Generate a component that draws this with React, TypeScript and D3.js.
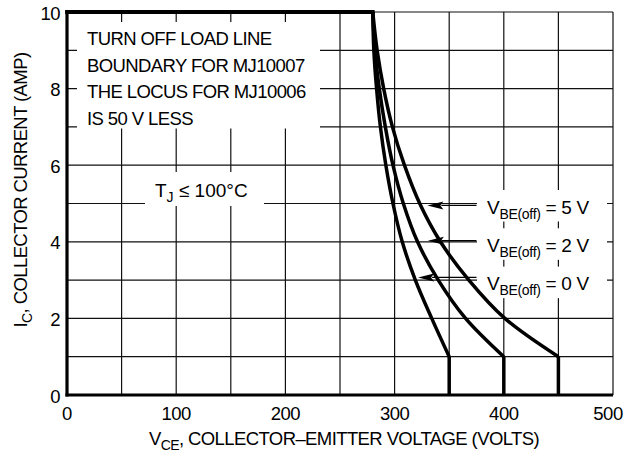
import React from 'react';
import * as d3 from 'd3';

// Collector current levels (A) read at each grid line, top to bottom
const currentLevels = [10, 9, 8, 7, 6, 5, 4, 3, 2, 1];

// Collector-emitter voltage (V) of each load-line boundary at those currents
const vbeOff0 = [280, 281, 283.5, 287, 292, 298.5, 307, 319, 334, 350];
const vbeOff2 = [280, 282, 286, 291.5, 298.5, 308, 321, 340, 365, 400];
const vbeOff5 = [280, 284, 290, 298, 309, 323, 342, 368, 401, 450];

const seriesNames = ['0 V', '2 V', '5 V'];
const seriesValues = [vbeOff0, vbeOff2, vbeOff5];

// Arrow annotations: label, current level of the arrow, voltage of the arrow tip
const arrowLabels = ['5 V', '2 V', '0 V'];
const arrowCurrent = [4.95, 4.03, 3.07];
const arrowTipVoltage = [330, 330.5, 321.5];
const arrowTailVoltage = 375;
const labelLevels = [5, 4, 3];

const xTicks = [0, 100, 200, 300, 400, 500];
const yTicks = [0, 2, 4, 6, 8, 10];

const noteLines = [
  'TURN OFF LOAD LINE',
  'BOUNDARY FOR MJ10007',
  'THE LOCUS FOR MJ10006',
  'IS 50 V LESS',
];

const W = 624;
const H = 457;
const FONT = '"Liberation Sans", Arial, Helvetica, sans-serif';

export default function App() {
  const x = d3.scaleLinear().domain([0, 500]).range([67, 613]);
  const y = d3.scaleLinear().domain([0, 10]).range([395, 12]);

  const gridX = d3.range(0, 501, 50);
  const gridY = d3.range(0, 11, 1);

  const curve = d3
    .line<[number, number]>()
    .x(d => x(d[0]))
    .y(d => y(d[1]))
    .curve(d3.curveCatmullRom.alpha(0.5));

  const textStyle: React.CSSProperties = { fontFamily: FONT, fill: '#000' };

  return (
    <svg
      width={W}
      height={H}
      viewBox={`0 0 ${W} ${H}`}
      style={{ position: 'absolute', left: 0, top: 0, background: '#fff' }}
    >
      <rect x={0} y={0} width={W} height={H} fill="#fff" />

      {/* grid */}
      <g stroke="#111" strokeWidth={1.2}>
        {gridX.map(v => (
          <line key={'gx' + v} x1={x(v)} x2={x(v)} y1={y(0)} y2={y(10)} />
        ))}
        {gridY.map(v => (
          <line key={'gy' + v} x1={x(0)} x2={x(500)} y1={y(v)} y2={y(v)} />
        ))}
      </g>

      {/* white boxes behind annotations */}
      <g fill="#fff">
        <rect x={77} y={22} width={243} height={106.5} />
        <rect x={145} y={172} width={119} height={34} />
        {labelLevels.map(l => (
          <rect key={'lb' + l} x={477} y={y(l) - 13.5} width={130} height={31.5} />
        ))}
      </g>

      {/* thick axes */}
      <line x1={x(0)} x2={x(0)} y1={y(0) + 1.5} y2={y(10) - 1.5} stroke="#000" strokeWidth={3.2} />
      <line x1={x(0) - 1.5} x2={x(500)} y1={y(0)} y2={y(0)} stroke="#000" strokeWidth={3.2} />

      {/* boundary curves */}
      <line
        x1={x(0)}
        x2={x(280)}
        y1={y(10)}
        y2={y(10)}
        stroke="#000"
        strokeWidth={3.8}
        strokeLinecap="square"
      />
      {seriesValues.map((vals, i) => {
        const pts: [number, number][] = vals.map((v, k) => [v, currentLevels[k]]);
        const last = vals[vals.length - 1];
        return (
          <g key={seriesNames[i]} fill="none" stroke="#000" strokeWidth={3.5}>
            <path d={curve(pts) || ''} strokeLinejoin="round" />
            <line x1={x(last)} x2={x(last)} y1={y(1)} y2={y(0)} />
          </g>
        );
      })}

      {/* arrows */}
      {arrowLabels.map((lab, i) => {
        const ty = y(arrowCurrent[i]);
        const tx = x(arrowTipVoltage[i]);
        return (
          <g key={'ar' + lab}>
            <line x1={tx + 14} x2={x(arrowTailVoltage)} y1={ty} y2={ty} stroke="#000" strokeWidth={1.3} />
            <path d={`M${tx},${ty} L${tx + 16},${ty - 4} L${tx + 13},${ty} L${tx + 16},${ty + 4} Z`} fill="#000" />
          </g>
        );
      })}

      {/* arrow labels */}
      {arrowLabels.map((lab, i) => (
        <text key={'lt' + lab} x={487} y={y(labelLevels[i]) + 10} style={{ ...textStyle, fontSize: 19, letterSpacing: -0.3 }}>
          V
          <tspan dy={5} style={{ fontSize: 14 }}>BE(off)</tspan>
          <tspan dy={-5}>{' = ' + lab}</tspan>
        </text>
      ))}

      {/* note text */}
      {noteLines.map((t, i) => (
        <text key={'n' + i} x={87} y={45 + i * 26.5} style={{ ...textStyle, fontSize: 18.5, letterSpacing: -0.6 }}>
          {t}
        </text>
      ))}

      <text x={155} y={197} style={{ ...textStyle, fontSize: 19 }}>
        T
        <tspan dy={5} style={{ fontSize: 14 }}>J</tspan>
        <tspan dy={-5}>{' \u2264  100\u00b0C'}</tspan>
      </text>

      {/* tick labels */}
      {yTicks.map(v => (
        <text
          key={'yt' + v}
          x={60}
          y={y(v) + 1}
          textAnchor="end"
          dominantBaseline="central"
          style={{ ...textStyle, fontSize: 18.5, letterSpacing: -0.5 }}
        >
          {v}
        </text>
      ))}
      {xTicks.map(v => (
        <text
          key={'xt' + v}
          x={Math.min(x(v), W - 16)}
          y={420}
          textAnchor="middle"
          style={{ ...textStyle, fontSize: 18.5, letterSpacing: -0.5 }}
        >
          {v}
        </text>
      ))}

      {/* axis titles */}
      <text x={344} y={445} textAnchor="middle" style={{ ...textStyle, fontSize: 18.5, letterSpacing: -0.6 }}>
        V
        <tspan dy={5} style={{ fontSize: 14 }}>CE</tspan>
        <tspan dy={-5}>, COLLECTOR–EMITTER VOLTAGE (VOLTS)</tspan>
      </text>
      <text
        transform={`translate(27, 190) rotate(-90)`}
        textAnchor="middle"
        style={{ ...textStyle, fontSize: 18.5, letterSpacing: -0.6 }}
      >
        I
        <tspan dy={5} style={{ fontSize: 14 }}>C</tspan>
        <tspan dy={-5}>, COLLECTOR CURRENT (AMP)</tspan>
      </text>
    </svg>
  );
}
